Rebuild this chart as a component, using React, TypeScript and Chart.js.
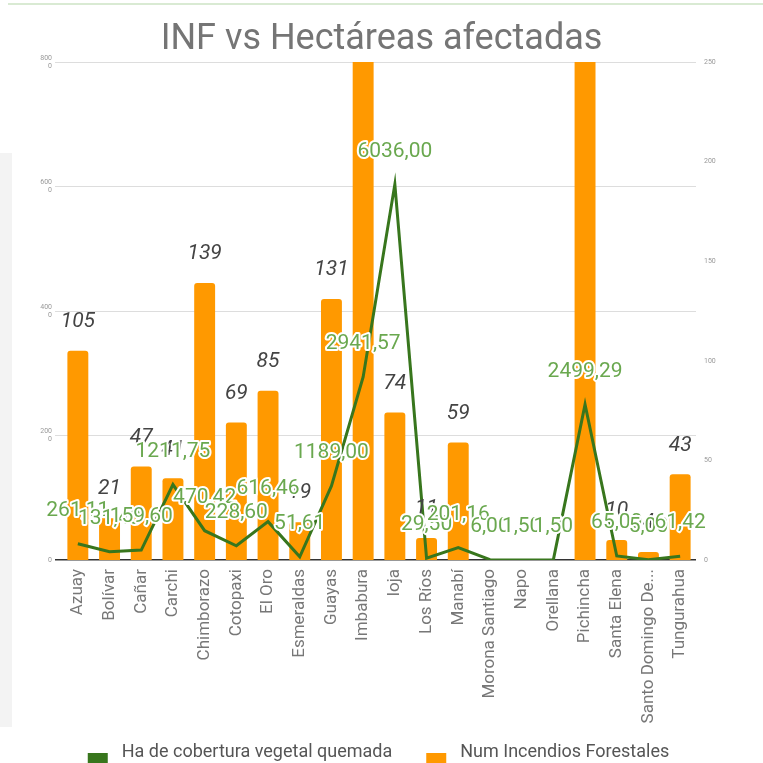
import React, { useEffect, useRef } from "react";
import { Chart, registerables } from "chart.js";

Chart.register(...registerables);

const titleText = "INF vs Hectáreas afectadas";
const categories = [
  "Azuay", "Bolívar", "Cañar", "Carchi", "Chimborazo", "Cotopaxi", "El Oro",
  "Esmeraldas", "Guayas", "Imbabura", "loja", "Los Ríos", "Manabí",
  "Morona Santiago", "Napo", "Orellana", "Pichincha", "Santa Elena",
  "Santo Domingo De...", "Tungurahua",
];
const seriesNames = ["Ha de cobertura vegetal quemada", "Num Incendios Forestales"];
const haQuemada = [
  261.11, 131.4, 159.6, 1211.75, 470.42, 228.6, 616.46, 51.61, 1189.0, 2941.57,
  6036.0, 29.5, 201.16, 6.0, 1.5, 1.5, 2499.29, 65.0, 5.0, 61.42,
];
const numIncendios = [
  105, 21, 47, 41, 139, 69, 85, 19, 131, 280, 74, 11, 59, 0, 0, 0, 300, 10, 4, 43,
];
const leftTickValues = [0, 2000, 4000, 6000, 8000];
const rightTickValues = [0, 50, 100, 150, 200, 250];

const GREEN = "#38761d";
const GREEN_LABEL = "#6aa84f";
const ORANGE = "#ff9900";
const FONT = "Roboto";

const fmt = (v: number) => v.toFixed(2).replace(".", ",");

const labelsPlugin = {
  id: "valueLabels",
  afterDatasetsDraw(chart: any) {
    const { ctx } = chart;
    const lineMeta = chart.getDatasetMeta(0);
    const barMeta = chart.getDatasetMeta(1);
    const yMax = chart.scales.y1.max;
    ctx.save();
    ctx.textAlign = "center";
    ctx.textBaseline = "middle";
    ctx.font = `italic 21px ${FONT}`;
    ctx.fillStyle = "#444";
    barMeta.data.forEach((el: any, i: number) => {
      const v = numIncendios[i];
      if (!v || v > yMax) return;
      ctx.fillText(String(v), el.x, el.y - 29);
    });
    ctx.font = `21px ${FONT}`;
    ctx.lineJoin = "round";
    ctx.lineWidth = 4;
    ctx.strokeStyle = "#ffffff";
    ctx.fillStyle = GREEN_LABEL;
    lineMeta.data.forEach((el: any, i: number) => {
      const t = fmt(haQuemada[i]);
      ctx.strokeText(t, el.x, el.y - 33);
      ctx.fillText(t, el.x, el.y - 33);
    });
    ctx.restore();
  },
  afterDraw(chart: any) {
    const { ctx, width } = chart;
    const items = [
      { c: GREEN, t: seriesNames[0] },
      { c: ORANGE, t: seriesNames[1] },
    ];
    ctx.save();
    ctx.font = `18px ${FONT}`;
    const boxW = 20, boxH = 12, gap = 14, spacing = 34;
    const ws = items.map((it) => boxW + gap + ctx.measureText(it.t).width);
    const total = ws[0] + ws[1] + spacing;
    let x = width / 2 - total / 2 - 3;
    const y = 752;
    ctx.textAlign = "left";
    ctx.textBaseline = "middle";
    items.forEach((it, i) => {
      ctx.fillStyle = it.c;
      ctx.fillRect(x, 753, boxW, boxH);
      ctx.fillStyle = "#555";
      ctx.fillText(it.t, x + boxW + gap, y);
      x += ws[i] + spacing;
    });
    ctx.restore();
  },
};

export default function App() {
  const ref = useRef<HTMLCanvasElement | null>(null);
  useEffect(() => {
    if (!ref.current) return;
    Chart.defaults.font.family = FONT;
    const chart = new Chart(ref.current, {
      type: "bar",
      data: {
        labels: categories,
        datasets: [
          {
            type: "line",
            label: seriesNames[0],
            data: haQuemada,
            yAxisID: "y",
            borderColor: GREEN,
            backgroundColor: GREEN,
            borderWidth: 3,
            pointRadius: 0,
            tension: 0,
            fill: false,
            order: 0,
          } as any,
          {
            type: "bar",
            label: seriesNames[1],
            data: numIncendios,
            yAxisID: "y1",
            backgroundColor: ORANGE,
            borderRadius: 3,
            categoryPercentage: 1,
            barPercentage: 0.66,
            order: 1,
          },
        ],
      },
      options: {
        animation: false,
        responsive: true,
        maintainAspectRatio: false,
        layout: { padding: { top: 0, bottom: 0, left: 0, right: 0 } },
        plugins: {
          legend: { display: false },
          tooltip: { enabled: false },
          title: {
            display: true,
            text: titleText,
            color: "#757575",
            font: { family: FONT, size: 36, weight: "normal" as any },
            padding: { top: 18, bottom: 0.8 },
          },
        },
        scales: {
          x: {
            grid: { display: false, drawTicks: false },
            border: { display: false },
            ticks: {
              autoSkip: false,
              maxRotation: 90,
              minRotation: 90,
              padding: 9,
              color: "#777",
              font: { family: FONT, size: 17 },
            },
            afterFit: (s: any) => {
              s.height = 203;
            },
          },
          y: {
            position: "left",
            min: 0,
            max: 8000,
            afterBuildTicks: (s: any) => {
              s.ticks = leftTickValues.map((v) => ({ value: v }));
            },
            grid: {
              color: (c: any) => (c.tick && c.tick.value === 0 ? "#333" : "#ddd"),
              lineWidth: (c: any) => (c.tick && c.tick.value === 0 ? 1.5 : 1),
              tickLength: 7,
            },
            border: { display: false },
            ticks: {
              padding: 3,
              color: "#999",
              font: { family: FONT, size: 7 },
              callback: (v: any) => {
                const s = String(v);
                return s.length > 3 ? [s.slice(0, 3), s.slice(3)] : s;
              },
            },
            afterFit: (s: any) => {
              s.width = 62;
              s.paddingTop = 0;
              s.paddingBottom = 0;
            },
          },
          y1: {
            position: "right",
            min: 0,
            max: 250,
            afterBuildTicks: (s: any) => {
              s.ticks = rightTickValues.map((v) => ({ value: v }));
            },
            grid: { display: false, drawTicks: false },
            border: { display: false },
            ticks: {
              padding: 8,
              color: "#999",
              font: { family: FONT, size: 7 },
            },
            afterFit: (s: any) => {
              s.width = 67;
              s.paddingTop = 0;
              s.paddingBottom = 0;
            },
          },
        },
      },
      plugins: [labelsPlugin],
    });
    return () => chart.destroy();
  }, []);

  return (
    <div style={{ position: "absolute", left: 0, top: 0, width: 763, height: 763, background: "#fff" }}>
      <div style={{ position: "absolute", left: 8, top: 3, width: 755, height: 1.5, background: "#d9ead3" }} />
      <div style={{ position: "absolute", left: 0, top: 153, width: 12, height: 574, background: "#f3f3f3" }} />
      <canvas ref={ref} style={{ position: "absolute", left: 0, top: 0, width: 763, height: 763 }} />
    </div>
  );
}
